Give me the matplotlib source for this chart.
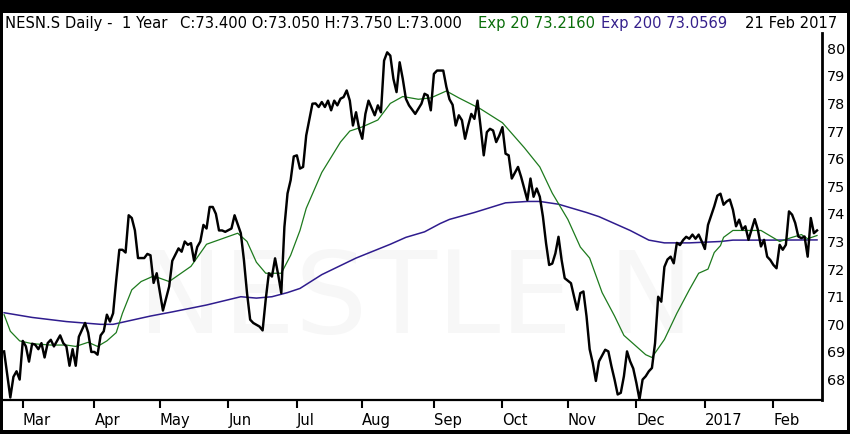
import numpy as np
import pandas as pd
import matplotlib
matplotlib.use('Agg')
import matplotlib.pyplot as plt
from matplotlib.patches import Rectangle

# ---------------- data ----------------
# trading days (index 0 = 22 Feb 2016, index 261 = 21 Feb 2017)
dates = pd.bdate_range('2016-02-22', periods=262)

close_day = [0, 2, 3, 4, 5, 6, 7, 8, 9, 10, 11, 12, 13, 14, 15, 16, 18, 19, 20, 21,
             22, 23, 24, 26, 27, 28, 29, 30, 31, 32, 33, 34, 35, 36, 37, 38, 39, 40, 41, 42,
             43, 45, 46, 47, 48, 49, 51, 53, 54, 56, 57, 58, 59, 60, 61, 62, 63, 64, 65, 66,
             67, 68, 69, 70, 71, 73, 74, 76, 77, 78, 79, 80, 82, 83, 84, 85, 86, 87, 88, 89,
             90, 91, 92, 93, 94, 95, 96, 97, 99, 100, 101, 102, 103, 104, 105, 106, 107, 108, 109, 110,
             111, 112, 113, 114, 115, 116, 117, 119, 120, 121, 122, 123, 124, 125, 126, 127, 128, 129, 130, 132,
             134, 135, 136, 137, 138, 139, 141, 142, 143, 144, 145, 146, 147, 148, 149, 150, 151, 152, 153, 154,
             155, 156, 157, 158, 159, 160, 161, 162, 163, 165, 166, 167, 168, 169, 170, 171, 172, 173, 174, 175,
             176, 177, 178, 179, 180, 182, 183, 184, 185, 186, 187, 188, 189, 190, 191, 193, 194, 195, 196, 197,
             198, 199, 200, 201, 202, 203, 204, 205, 206, 207, 208, 209, 210, 211, 212, 213, 214, 215, 216, 217,
             218, 219, 220, 221, 222, 223, 224, 225, 226, 228, 229, 230, 231, 232, 233, 234, 235, 236, 237, 238,
             239, 240, 241, 242, 243, 244, 245, 246, 247, 248, 249, 250, 251, 252, 253, 254, 255, 256, 257, 258,
             259, 260, 261]
close_val = [69.02, 67.35, 68.10, 68.30, 68.00, 69.40, 69.20, 68.65, 69.30, 69.26, 69.10, 69.32, 68.80, 69.32, 69.44, 69.20, 69.60, 69.32, 69.20, 68.50,
             69.10, 68.50, 69.55, 70.05, 69.70, 69.00, 69.00, 68.90, 69.60, 69.75, 70.35, 70.10, 70.40, 71.60, 72.70, 72.70, 72.60, 73.95, 73.85, 73.40,
             72.40, 72.40, 72.55, 72.50, 71.50, 71.85, 70.50, 71.37, 72.30, 72.75, 72.63, 73.00, 72.88, 72.94, 72.30, 72.80, 73.00, 73.60, 73.47, 74.25,
             74.25, 74.00, 73.40, 73.40, 73.35, 73.47, 73.95, 73.30, 72.33, 71.13, 70.17, 70.05, 69.92, 69.78, 70.90, 71.85, 71.73, 72.39, 71.80, 71.13,
             73.53, 74.74, 75.22, 76.08, 76.12, 75.64, 75.70, 76.84, 77.99, 78.00, 77.87, 78.05, 77.87, 78.10, 77.75, 78.10, 77.93, 78.17, 78.23, 78.47,
             78.10, 77.20, 77.68, 77.08, 76.72, 77.62, 78.10, 77.57, 77.93, 77.68, 79.55, 79.85, 79.73, 78.89, 78.41, 79.49, 78.89, 78.17, 77.93, 77.62,
             77.99, 78.35, 78.29, 77.75, 79.07, 79.19, 79.19, 78.60, 78.15, 77.95, 77.20, 77.57, 77.39, 76.72, 77.20, 77.62, 77.44, 78.10, 77.14, 76.12,
             76.96, 77.08, 77.02, 76.60, 76.84, 77.14, 76.18, 76.12, 75.28, 75.70, 75.34, 74.92, 74.50, 75.28, 74.62, 74.92, 74.62, 73.90, 72.94, 72.15,
             72.20, 72.57, 73.17, 72.33, 71.67, 71.49, 71.00, 70.53, 71.13, 71.19, 70.29, 69.10, 68.60, 67.95, 68.66, 69.08, 69.02, 68.48, 68.00, 67.46,
             67.52, 68.12, 69.02, 68.66, 68.40, 67.88, 67.28, 68.00, 68.12, 68.30, 68.42, 69.32, 71.00, 70.82, 72.08, 72.35, 72.45, 72.21, 72.95, 72.87,
             73.05, 73.17, 73.10, 73.25, 73.10, 73.25, 73.00, 72.73, 73.60, 74.27, 74.66, 74.73, 74.33, 74.45, 74.52, 74.15, 73.55, 73.79, 73.43, 73.55,
             73.06, 73.43, 73.81, 73.43, 72.82, 73.06, 72.45, 72.33, 72.15, 72.03, 72.88, 72.70, 72.88, 74.09, 73.97, 73.67, 73.18, 73.12, 73.18, 72.45,
             73.85, 73.30, 73.40]

ema20_day = [0, 2, 5, 9, 15, 20, 23, 27, 30, 33, 36, 38, 41, 44, 48, 53, 60, 65, 70, 75,
             78, 81, 84, 89, 92, 95, 97, 102, 108, 111, 115, 120, 124, 128, 133, 137, 142, 146, 153, 160,
             167, 172, 176, 181, 185, 188, 192, 196, 199, 203, 206, 208, 212, 216, 220, 223, 226, 228, 230, 231,
             234, 240, 243, 246, 249, 253, 256, 258, 261]
ema20_val = [70.35, 69.75, 69.40, 69.30, 69.25, 69.25, 69.20, 69.35, 69.20, 69.40, 69.70, 70.40, 71.25, 71.55, 71.75, 71.55, 72.10, 72.90, 73.10, 73.30,
             73.00, 72.25, 71.85, 71.85, 72.50, 73.40, 74.20, 75.50, 76.60, 77.00, 77.15, 77.40, 78.00, 78.25, 78.15, 78.20, 78.45, 78.20, 77.80, 77.30,
             76.40, 75.70, 74.75, 73.80, 72.80, 72.40, 71.15, 70.30, 69.60, 69.20, 68.90, 68.80, 69.45, 70.40, 71.25, 71.85, 72.00, 72.60, 72.85, 73.15,
             73.40, 73.40, 73.40, 73.20, 73.00, 73.15, 73.25, 73.10, 73.216]

ema200_day = [0, 9, 20, 31, 35, 41, 47, 54, 65, 76, 81, 86, 91, 95, 102, 113, 124, 129, 135, 140,
              143, 151, 161, 168, 172, 178, 187, 191, 195, 201, 207, 212, 220, 230, 234, 245, 261]
ema200_val = [70.42, 70.25, 70.10, 70.00, 70.00, 70.15, 70.30, 70.45, 70.70, 71.00, 70.95, 71.00, 71.15, 71.30, 71.80, 72.40, 72.90, 73.15, 73.35, 73.65,
              73.80, 74.05, 74.40, 74.45, 74.45, 74.35, 74.05, 73.90, 73.70, 73.40, 73.05, 72.95, 72.95, 73.00, 73.05, 73.05, 73.0569]

y_ticks = [68, 69, 70, 71, 72, 73, 74, 75, 76, 77, 78, 79, 80]
month_labels = ['Mar', 'Apr', 'May', 'Jun', 'Jul', 'Aug', 'Sep', 'Oct', 'Nov', 'Dec', '2017', 'Feb']

header_left = 'NESN.S Daily -  1 Year'
header_ohlc = 'C:73.400 O:73.050 H:73.750 L:73.000'
header_ema20 = 'Exp 20 73.2160'
header_ema200 = 'Exp 200 73.0569'
header_date = '21 Feb 2017'
watermark = 'NESTLE N'

# ---------------- figure ----------------
W, H = 850, 434
fig = plt.figure(figsize=(W / 100, H / 100), dpi=100, facecolor='white')


def fx(px):
    return px / W


def fy(py):
    return 1 - py / H


# black frame
for (x0, y0, w, h) in [(0, 0, W, 12.5), (0, 0, 3.3, H), (W - 3.3, 0, 3.3, H), (0, H - 4, W, 4)]:
    fig.patches.append(Rectangle((fx(x0), fy(y0 + h)), w / W, h / H, transform=fig.transFigure,
                                 facecolor='black', edgecolor='none', zorder=10))

ax_left, ax_right, ax_top, ax_bot = 3, 822, 33, 400
ax = fig.add_axes([fx(ax_left), fy(ax_bot), (ax_right - ax_left) / W, (ax_bot - ax_top) / H])
ax.set_facecolor('white')

green = '#1d7a1d'
purple = '#2f1c8e'

ax.plot(ema200_day, ema200_val, color=purple, lw=1.1, zorder=2)
ax.plot(ema20_day, ema20_val, color=green, lw=0.9, zorder=3)
ax.plot(close_day, close_val, color='black', lw=1.75, zorder=4, solid_joinstyle='round')

ax.text(fx(693), fy(333), watermark, transform=fig.transFigure, ha='right', va='baseline',
        fontsize=82, color='#f7f7f7', zorder=0)

ax.set_ylim(67.26, 80.55)
ax.set_xlim(-0.35, 262.6)

# x ticks at first trading day of each month
month_idx = [i for i in range(1, len(dates)) if dates[i].month != dates[i - 1].month]
ax.set_xticks(month_idx)
ax.set_xticklabels(month_labels, fontsize=10.6)
for lbl in ax.get_xticklabels():
    lbl.set_horizontalalignment('left')
ax.tick_params(axis='x', direction='out', length=6, width=1.5, color='black', pad=3.5)

ax.yaxis.tick_right()
ax.set_yticks(y_ticks)
ax.set_yticklabels([str(v) for v in y_ticks], fontsize=10.4)
ax.tick_params(axis='y', length=0, pad=3.5)

for s in ['left', 'top']:
    ax.spines[s].set_visible(False)
ax.spines['bottom'].set_linewidth(1.6)
ax.spines['right'].set_linewidth(2.0)

# header
base = fy(28)
hs = 10.6
fig.text(fx(5), base, header_left, fontsize=hs, va='baseline', ha='left')
fig.text(fx(180), base, header_ohlc, fontsize=hs, va='baseline', ha='left')
fig.text(fx(478), base, header_ema20, fontsize=hs, va='baseline', ha='left', color='#0a6e0a')
fig.text(fx(601), base, header_ema200, fontsize=hs, va='baseline', ha='left', color='#35208c')
fig.text(fx(837), base, header_date, fontsize=hs, va='baseline', ha='right')

fig.savefig('out.png', dpi=100, facecolor='white')
